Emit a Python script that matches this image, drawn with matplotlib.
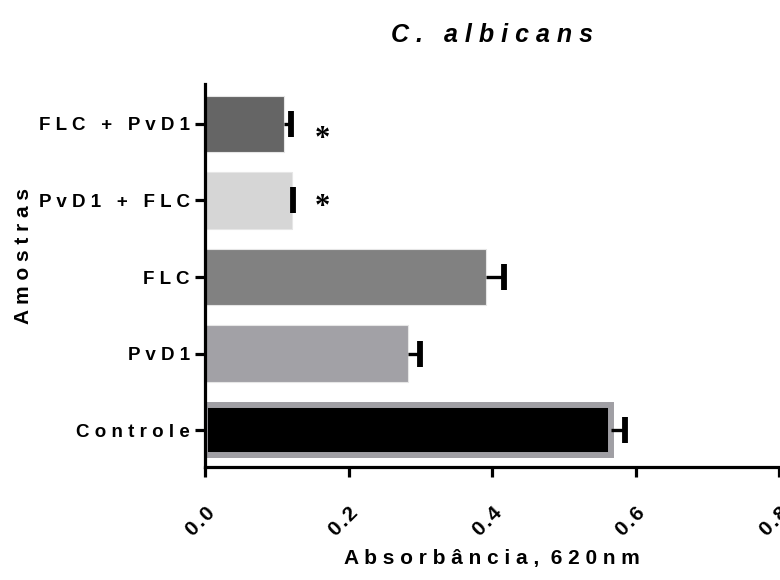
import matplotlib
matplotlib.use("Agg")
import matplotlib.pyplot as plt
import numpy as np

# data (bottom to top)
samples = ["Controle", "PvD1", "FLC", "PvD1 + FLC", "FLC + PvD1"]
absorbance = [0.565, 0.283, 0.392, 0.121, 0.110]
sem = [0.020, 0.017, 0.024, 0.002, 0.010]
bar_colors = ["#000000", "#a2a1a6", "#818181", "#d6d6d6", "#656565"]
signif = ["", "", "", "*", "*"]
x_ticks = [0.0, 0.2, 0.4, 0.6, 0.8]


def spaced(s, gap=" "):
    # prism-style letter spacing
    return gap.join(s)


plt.rcParams["font.family"] = ["Liberation Sans", "DejaVu Sans"]
plt.rcParams["font.weight"] = "bold"

fig = plt.figure(figsize=(7.8, 5.8), dpi=100)
ax = fig.add_axes([0.263, 0.195, 0.736, 0.66])

y = np.arange(len(samples))
for i in range(len(samples)):
    if samples[i] == "Controle":
        ax.barh(y[i], absorbance[i], height=0.66, color=bar_colors[i],
                edgecolor="#a09fa4", linewidth=4.3, zorder=2)
    else:
        ax.barh(y[i], absorbance[i], height=0.74, color=bar_colors[i],
                edgecolor="#e6e6e6", linewidth=0.8, zorder=2)

# one-sided error bars (upper side only)
tips = np.array(absorbance) + np.array(sem)
ax.hlines(y, absorbance, tips, color="black", linewidth=2.4, zorder=3)
ax.plot(tips, y, linestyle="none", marker="|", markersize=19,
        markeredgewidth=4.2, color="black", zorder=4)

for i in range(len(samples)):
    if signif[i]:
        ax.text(0.164, y[i] - (0.16 if i == 4 else 0.04), signif[i],
                fontsize=22, family="Liberation Serif", fontweight="bold",
                ha="center", va="center_baseline")

ax.set_xlim(0, 0.8)
ax.set_ylim(-0.48, 4.52)
ax.set_xticks(x_ticks)
ax.set_xticklabels([spaced(f"{t:.1f}", "\u200a") for t in x_ticks],
                   rotation=45, ha="right", va="top", rotation_mode="anchor",
                   fontsize=15)
ax.set_yticks(y)
ax.set_yticklabels([spaced(s) for s in samples], fontsize=13.5)

for side in ["top", "right"]:
    ax.spines[side].set_visible(False)
for side in ["left", "bottom"]:
    ax.spines[side].set_linewidth(2.3)
ax.tick_params(axis="both", width=2.3, length=7, pad=4)
ax.tick_params(axis="x", pad=19)

ax.set_xlabel(spaced("Absorbância,") + "  " + spaced("620nm"), fontsize=15,
              fontweight="bold", labelpad=7)
ax.set_ylabel(spaced("Amostras"), fontsize=15, fontweight="bold")
ax.yaxis.set_label_coords(-0.30, 0.55)
ax.set_title(spaced("C. albicans"), fontsize=18, style="italic",
             fontweight="bold", pad=30)

fig.savefig("out.png", dpi=100)
